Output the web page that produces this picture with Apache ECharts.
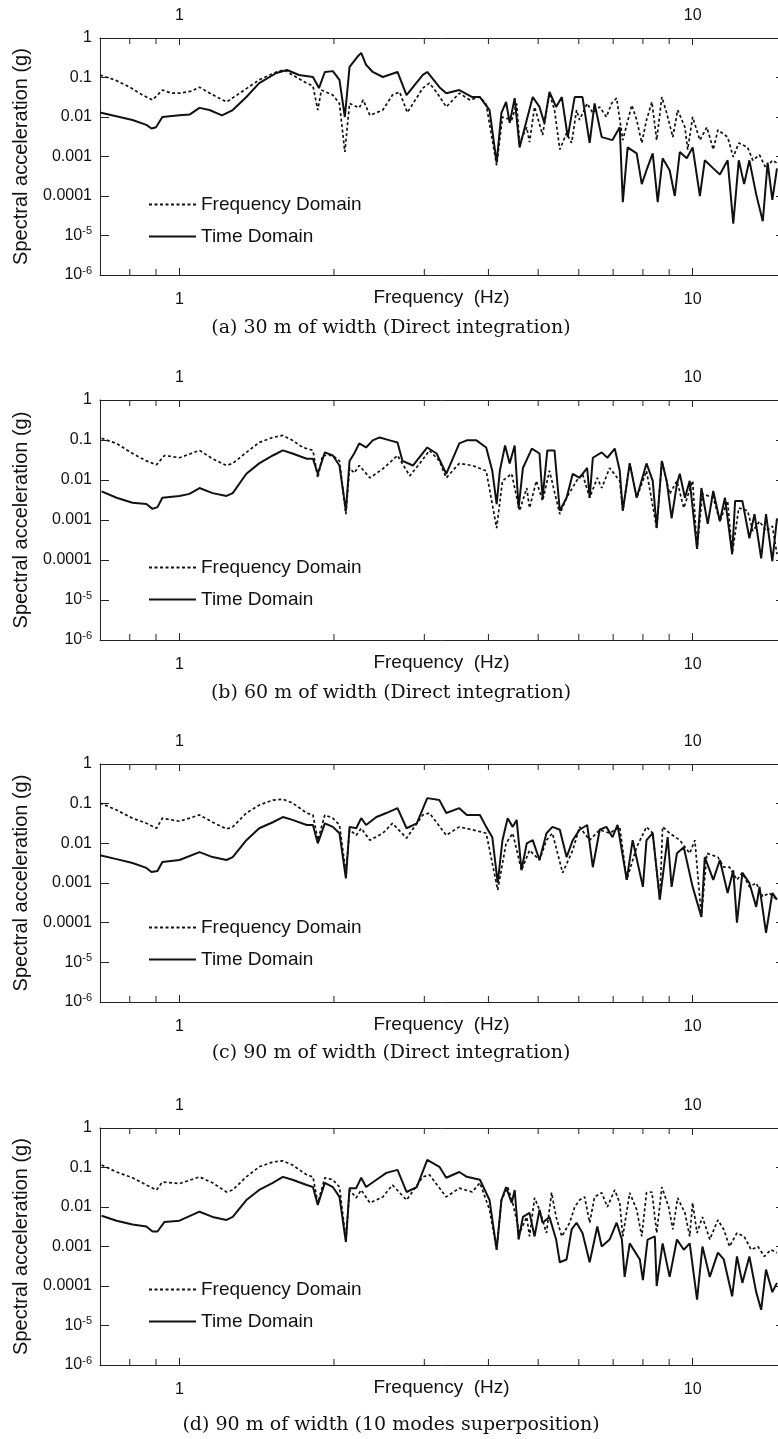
<!DOCTYPE html>
<html>
<head>
<meta charset="utf-8">
<script src="https://cdn.jsdelivr.net/npm/echarts@6/dist/echarts.min.js"></script>
<style>
html,body{margin:0;padding:0;background:#fff;overflow:hidden;width:778px;height:1439px;}
#chart{width:790px;height:1439px;}
</style>
</head>
<body>
<div id="chart"></div>
<script>
// ---------- Data (frequency in Hz, spectral acceleration in g) ----------
const seriesNames = ['Frequency Domain', 'Time Domain'];
const captions = [
  '(a) 30 m of width (Direct integration)',
  '(b) 60 m of width (Direct integration)',
  '(c) 90 m of width (Direct integration)',
  '(d) 90 m of width (10 modes superposition)'
];
const xTickLabelValues = [1, 10];
const xMinorTicks = [0.8, 0.9, 2, 3, 4, 5, 6, 7, 8, 9];
const yTickLabels = {'0': '1', '-1': '0.1', '-2': '0.01', '-3': '0.001', '-4': '0.0001', '-5': '10^-5', '-6': '10^-6'};

const aFreqDomain = [[0.70,0.115],[0.748,0.087],[0.80,0.057],[0.847,0.036],[0.886,0.027],[0.926,0.048],[0.965,0.040],[1.0,0.040],[1.055,0.045],[1.094,0.057],[1.154,0.038],[1.235,0.024],[1.31,0.040],[1.43,0.087],[1.545,0.138],[1.60,0.155],[1.66,0.116],[1.77,0.072],[1.82,0.061],[1.86,0.015],[1.89,0.048],[1.99,0.036],[2.05,0.022],[2.10,0.0013],[2.145,0.022],[2.24,0.017],[2.28,0.027],[2.35,0.011],[2.49,0.015],[2.60,0.036],[2.685,0.043],[2.78,0.013],[2.98,0.054],[3.07,0.072],[3.18,0.040],[3.31,0.018],[3.51,0.040],[3.68,0.027],[3.85,0.032],[3.96,0.021],[4.15,0.0006],[4.26,0.010],[4.44,0.0084],[4.54,0.022],[4.60,0.0022],[4.75,0.0055],[4.81,0.0023],[4.92,0.018],[5.10,0.0035],[5.26,0.040],[5.38,0.015],[5.51,0.0015],[5.68,0.0039],[5.81,0.0022],[5.94,0.015],[6.02,0.0084],[6.23,0.022],[6.39,0.0127],[6.59,0.018],[6.79,0.010],[6.95,0.022],[7.11,0.030],[7.31,0.0026],[7.61,0.020],[7.78,0.0084],[7.96,0.0022],[8.13,0.0084],[8.33,0.024],[8.51,0.0026],[8.71,0.032],[8.90,0.0127],[9.15,0.0031],[9.35,0.015],[9.66,0.0055],[9.78,0.0015],[10.0,0.010],[10.33,0.0026],[10.66,0.0055],[10.97,0.0015],[11.2,0.0047],[11.7,0.0031],[12.0,0.00097],[12.3,0.0022],[12.8,0.0017],[13.1,0.0008],[13.5,0.0011],[13.9,0.0005],[14.3,0.0008],[14.6,0.00068]];
const aTimeDomain = [[0.70,0.013],[0.753,0.0105],[0.81,0.0084],[0.862,0.0063],[0.882,0.0051],[0.90,0.0055],[0.926,0.010],[1.0,0.011],[1.046,0.0115],[1.094,0.017],[1.144,0.015],[1.21,0.011],[1.27,0.015],[1.35,0.032],[1.43,0.072],[1.545,0.13],[1.62,0.155],[1.71,0.116],[1.82,0.103],[1.87,0.054],[1.92,0.138],[1.99,0.145],[2.05,0.087],[2.10,0.010],[2.145,0.185],[2.22,0.33],[2.26,0.42],[2.31,0.21],[2.38,0.138],[2.49,0.103],[2.66,0.138],[2.77,0.036],[2.98,0.116],[3.04,0.138],[3.21,0.057],[3.31,0.040],[3.51,0.048],[3.72,0.032],[3.85,0.032],[4.02,0.015],[4.15,0.0007],[4.24,0.0127],[4.33,0.024],[4.40,0.0071],[4.50,0.030],[4.60,0.0017],[4.75,0.0084],[4.88,0.032],[5.03,0.018],[5.14,0.0071],[5.26,0.043],[5.42,0.018],[5.56,0.032],[5.71,0.0031],[5.89,0.032],[6.10,0.032],[6.30,0.0022],[6.44,0.022],[6.65,0.0031],[6.98,0.0026],[7.21,0.0055],[7.31,0.00007],[7.47,0.0017],[7.78,0.0012],[7.96,0.0002],[8.13,0.00045],[8.36,0.0012],[8.55,0.00007],[8.74,0.0009],[9.02,0.00045],[9.23,0.0001],[9.44,0.0013],[9.74,0.0009],[10.0,0.0017],[10.33,0.0001],[10.56,0.0008],[10.97,0.0005],[11.3,0.00035],[11.7,0.0008],[12.0,0.00002],[12.3,0.0008],[12.6,0.0002],[12.9,0.0008],[13.3,0.00011],[13.7,0.000023],[14.0,0.0007],[14.3,0.00008],[14.6,0.0005]];

const bFreqDomain = [[0.705,0.11],[0.754,0.082],[0.81,0.046],[0.862,0.030],[0.902,0.024],[0.935,0.041],[1.0,0.036],[1.094,0.055],[1.16,0.034],[1.235,0.023],[1.27,0.026],[1.35,0.049],[1.43,0.087],[1.52,0.116],[1.59,0.13],[1.66,0.098],[1.74,0.065],[1.82,0.055],[1.86,0.0113],[1.90,0.041],[1.99,0.041],[2.05,0.030],[2.11,0.0014],[2.145,0.020],[2.19,0.015],[2.24,0.023],[2.35,0.0113],[2.49,0.019],[2.66,0.041],[2.81,0.0127],[2.94,0.026],[3.07,0.055],[3.21,0.030],[3.31,0.0113],[3.51,0.026],[3.72,0.023],[3.96,0.017],[4.15,0.00063],[4.26,0.0095],[4.44,0.0143],[4.60,0.0017],[4.75,0.0063],[4.81,0.002],[4.96,0.0095],[5.10,0.003],[5.26,0.017],[5.51,0.0014],[5.68,0.0036],[5.94,0.0095],[6.10,0.0143],[6.30,0.0036],[6.52,0.0113],[6.65,0.0063],[6.89,0.020],[7.21,0.0095],[7.31,0.0017],[7.54,0.026],[7.78,0.0036],[8.13,0.017],[8.51,0.00063],[8.71,0.030],[9.02,0.0045],[9.32,0.0095],[9.61,0.002],[10.0,0.0095],[10.2,0.00019],[10.45,0.0045],[10.97,0.0036],[11.3,0.00093],[11.7,0.003],[11.94,0.00014],[12.3,0.002],[12.8,0.0017],[13.1,0.00053],[13.5,0.00093],[13.9,0.00053],[14.3,0.0007],[14.6,0.00014]];
const bTimeDomain = [[0.705,0.0052],[0.754,0.0036],[0.81,0.0027],[0.862,0.0025],[0.886,0.0019],[0.906,0.0021],[0.926,0.0036],[1.0,0.004],[1.046,0.0045],[1.094,0.0063],[1.16,0.0047],[1.235,0.004],[1.27,0.0047],[1.35,0.0143],[1.43,0.026],[1.52,0.041],[1.59,0.055],[1.66,0.046],[1.77,0.034],[1.82,0.034],[1.86,0.0143],[1.92,0.049],[1.99,0.041],[2.05,0.023],[2.11,0.0017],[2.145,0.030],[2.19,0.046],[2.24,0.082],[2.31,0.065],[2.38,0.098],[2.455,0.116],[2.57,0.098],[2.66,0.087],[2.72,0.030],[2.85,0.023],[3.04,0.065],[3.17,0.046],[3.31,0.0143],[3.51,0.082],[3.63,0.098],[3.79,0.098],[3.96,0.065],[4.07,0.017],[4.15,0.0025],[4.21,0.017],[4.31,0.073],[4.40,0.026],[4.50,0.073],[4.58,0.002],[4.67,0.020],[4.86,0.061],[5.03,0.046],[5.10,0.0036],[5.21,0.055],[5.38,0.055],[5.51,0.0017],[5.68,0.0036],[5.84,0.0143],[6.02,0.0113],[6.23,0.020],[6.30,0.0036],[6.39,0.036],[6.65,0.049],[6.82,0.036],[7.05,0.061],[7.21,0.017],[7.31,0.0017],[7.54,0.026],[7.78,0.0036],[8.13,0.026],[8.36,0.0095],[8.51,0.00063],[8.71,0.030],[8.90,0.0095],[9.10,0.0011],[9.32,0.008],[9.44,0.0143],[9.66,0.0036],[9.87,0.0095],[10.2,0.00019],[10.4,0.0063],[10.7,0.0008],[10.97,0.0053],[11.3,0.00093],[11.56,0.0036],[11.94,0.00014],[12.1,0.003],[12.5,0.003],[12.9,0.00035],[13.2,0.0014],[13.6,0.00011],[13.9,0.0014],[14.3,0.000093],[14.6,0.0011]];

const cFreqDomain = [[0.70,0.104],[0.754,0.069],[0.81,0.043],[0.862,0.032],[0.902,0.024],[0.926,0.043],[1.0,0.036],[1.094,0.052],[1.16,0.034],[1.235,0.023],[1.27,0.026],[1.35,0.058],[1.43,0.092],[1.52,0.123],[1.59,0.13],[1.66,0.104],[1.77,0.058],[1.82,0.052],[1.86,0.012],[1.92,0.052],[1.99,0.043],[2.05,0.029],[2.11,0.0018],[2.145,0.022],[2.21,0.016],[2.26,0.024],[2.35,0.012],[2.49,0.018],[2.60,0.032],[2.77,0.0135],[2.98,0.052],[3.07,0.058],[3.31,0.016],[3.51,0.026],[3.72,0.022],[3.96,0.018],[4.17,0.00067],[4.33,0.010],[4.46,0.018],[4.64,0.0021],[4.81,0.0067],[5.03,0.0038],[5.19,0.012],[5.33,0.018],[5.58,0.0018],[5.84,0.0067],[6.02,0.026],[6.30,0.012],[6.59,0.022],[6.89,0.018],[7.21,0.026],[7.44,0.0012],[7.78,0.008],[8.13,0.026],[8.36,0.018],[8.63,0.00038],[8.74,0.026],[9.02,0.018],[9.44,0.012],[9.87,0.0056],[10.1,0.012],[10.4,0.00014],[10.66,0.0056],[11.2,0.0045],[11.5,0.0025],[11.8,0.0025],[12.2,0.0012],[12.5,0.0018],[12.9,0.0008],[13.3,0.001],[13.7,0.00045],[14.1,0.00056],[14.6,0.00038]];
const cTimeDomain = [[0.70,0.005],[0.754,0.004],[0.81,0.0032],[0.862,0.0024],[0.882,0.0019],[0.906,0.002],[0.926,0.0034],[1.0,0.0038],[1.094,0.006],[1.16,0.0045],[1.235,0.0038],[1.27,0.0045],[1.35,0.012],[1.43,0.024],[1.52,0.034],[1.59,0.046],[1.66,0.039],[1.77,0.029],[1.82,0.029],[1.86,0.010],[1.92,0.032],[1.99,0.026],[2.05,0.018],[2.11,0.0013],[2.145,0.026],[2.21,0.024],[2.26,0.043],[2.31,0.029],[2.42,0.046],[2.53,0.058],[2.66,0.077],[2.77,0.024],[2.90,0.032],[3.04,0.138],[3.21,0.123],[3.31,0.058],[3.51,0.077],[3.63,0.052],[3.85,0.052],[3.96,0.026],[4.07,0.0143],[4.17,0.001],[4.26,0.012],[4.36,0.043],[4.46,0.026],[4.54,0.039],[4.64,0.0021],[4.75,0.010],[4.88,0.012],[5.03,0.0038],[5.19,0.018],[5.33,0.026],[5.51,0.022],[5.68,0.0045],[5.84,0.012],[6.02,0.022],[6.23,0.029],[6.39,0.0025],[6.59,0.022],[6.79,0.026],[6.98,0.0143],[7.14,0.029],[7.44,0.0012],[7.64,0.012],[8.0,0.0008],[8.13,0.012],[8.36,0.018],[8.63,0.00038],[8.94,0.0143],[9.10,0.0008],[9.32,0.0056],[9.61,0.008],[10.0,0.0008],[10.4,0.00014],[10.56,0.0045],[10.97,0.0012],[11.3,0.0038],[11.7,0.00056],[12.0,0.0021],[12.2,0.0001],[12.5,0.0018],[12.9,0.001],[13.3,0.00025],[13.5,0.0008],[13.9,0.000055],[14.3,0.00056],[14.6,0.00038]];

const dFreqDomain = [[0.705,0.116],[0.754,0.077],[0.81,0.055],[0.862,0.036],[0.902,0.027],[0.926,0.043],[1.0,0.039],[1.094,0.058],[1.16,0.041],[1.235,0.024],[1.27,0.027],[1.35,0.058],[1.43,0.104],[1.52,0.138],[1.59,0.147],[1.66,0.116],[1.77,0.065],[1.82,0.058],[1.86,0.0127],[1.92,0.055],[1.99,0.049],[2.05,0.032],[2.11,0.0015],[2.145,0.027],[2.21,0.017],[2.26,0.027],[2.35,0.0127],[2.49,0.018],[2.60,0.036],[2.77,0.015],[2.98,0.058],[3.07,0.065],[3.31,0.018],[3.51,0.030],[3.72,0.024],[3.85,0.041],[4.02,0.0085],[4.15,0.00083],[4.24,0.015],[4.36,0.032],[4.46,0.0127],[4.60,0.0022],[4.75,0.0056],[4.81,0.0018],[4.92,0.017],[5.03,0.0085],[5.19,0.0022],[5.31,0.023],[5.42,0.0056],[5.56,0.0018],[5.76,0.004],[5.89,0.010],[6.02,0.015],[6.16,0.018],[6.30,0.004],[6.44,0.018],[6.65,0.023],[6.82,0.010],[7.05,0.027],[7.21,0.0127],[7.31,0.0018],[7.54,0.023],[7.78,0.0085],[7.96,0.0018],[8.13,0.023],[8.33,0.024],[8.51,0.0022],[8.71,0.032],[8.98,0.010],[9.15,0.0027],[9.35,0.017],[9.66,0.0071],[9.87,0.0018],[10.0,0.0127],[10.2,0.0022],[10.45,0.0056],[10.8,0.0015],[11.2,0.0047],[11.5,0.0027],[11.8,0.001],[12.2,0.0022],[12.6,0.0018],[13.0,0.00083],[13.4,0.001],[13.8,0.00056],[14.2,0.00083],[14.6,0.0007]];
const dTimeDomain = [[0.705,0.006],[0.754,0.0045],[0.81,0.0036],[0.862,0.0032],[0.886,0.0024],[0.906,0.0024],[0.935,0.0042],[1.0,0.0045],[1.094,0.0076],[1.16,0.0056],[1.235,0.0047],[1.27,0.0056],[1.35,0.015],[1.43,0.027],[1.52,0.041],[1.59,0.058],[1.66,0.049],[1.77,0.036],[1.82,0.032],[1.86,0.0113],[1.92,0.041],[1.99,0.032],[2.05,0.018],[2.11,0.0013],[2.145,0.030],[2.21,0.030],[2.26,0.055],[2.31,0.032],[2.42,0.049],[2.53,0.073],[2.66,0.087],[2.77,0.024],[2.90,0.032],[3.04,0.155],[3.21,0.104],[3.31,0.055],[3.51,0.077],[3.63,0.058],[3.85,0.049],[4.02,0.015],[4.15,0.00083],[4.24,0.015],[4.33,0.032],[4.44,0.0127],[4.50,0.027],[4.58,0.0015],[4.67,0.0056],[4.81,0.0071],[4.92,0.0018],[5.03,0.0085],[5.10,0.004],[5.26,0.0056],[5.42,0.0015],[5.51,0.0004],[5.68,0.00047],[5.81,0.0027],[5.94,0.004],[6.10,0.0022],[6.30,0.0004],[6.52,0.0032],[6.65,0.001],[6.89,0.0015],[7.11,0.004],[7.28,0.0015],[7.37,0.00017],[7.54,0.0012],[7.89,0.00047],[8.0,0.00014],[8.17,0.0015],[8.44,0.0018],[8.51,0.0001],[8.74,0.0012],[9.02,0.00017],[9.32,0.0015],[9.61,0.00083],[9.87,0.0012],[10.2,0.000045],[10.45,0.001],[10.8,0.00017],[11.2,0.0007],[11.5,0.00047],[11.94,0.000055],[12.2,0.00056],[12.5,0.00012],[12.9,0.00056],[13.3,0.00007],[13.6,0.000025],[13.9,0.00026],[14.3,0.00007],[14.6,0.00012]];

const panelData = [
  [aFreqDomain, aTimeDomain],
  [bFreqDomain, bTimeDomain],
  [cFreqDomain, cTimeDomain],
  [dFreqDomain, dTimeDomain]
];

// ---------- Layout ----------
const X_MIN = 0.7, X_MAX = 15, Y_MIN = 1e-6, Y_MAX = 1;
const gridTops = [38, 400, 764, 1128];
const gridHeights = [237, 240, 238, 237];
const captionY = [328, 693, 1053, 1425];
const legendTops = [195, 558, 918, 1280];
const SANS = '"Liberation Sans", Arial, Helvetica, sans-serif';
const ink = '#111';

const grids = [], xAxes = [], yAxes = [], series = [], legends = [], graphics = [];

function yLabel(v) {
  const e = Math.round(Math.log10(v));
  const t = yTickLabels[String(e)];
  if (t && t.indexOf('^') > 0) {
    const p = t.split('^');
    return '{b|' + p[0] + '}{s|' + p[1] + '}';
  }
  return '{b|' + t + '}';
}
function xLabel(v) {
  return xTickLabelValues.some(t => Math.abs(t - v) < 1e-6) ? String(Math.round(v)) : '';
}

gridTops.forEach((top, i) => {
  grids.push({left: 100, right: 7, top: top, height: gridHeights[i], containLabel: false});
  const tickCommon = {show: true, inside: true, length: 7, lineStyle: {color: '#222', width: 1}};
  const axisLineCommon = {show: true, lineStyle: {color: '#222', width: 1}};
  xAxes.push({
    type: 'log', logBase: 10, gridIndex: i, position: 'bottom', min: X_MIN, max: X_MAX,
    axisLine: axisLineCommon, axisTick: tickCommon, splitLine: {show: false}, minorTick: {show: false},
    axisLabel: {show: true, margin: 17, color: ink, fontFamily: SANS, fontSize: 16, showMinLabel: false, showMaxLabel: false, formatter: xLabel},
    name: 'Frequency  (Hz)', nameLocation: 'middle', nameGap: 13, nameMoveOverlap: false,
    nameTextStyle: {color: ink, fontFamily: SANS, fontSize: 19}
  });
  xAxes.push({
    type: 'log', logBase: 10, gridIndex: i, position: 'top', min: X_MIN, max: X_MAX,
    axisLine: axisLineCommon, axisTick: tickCommon, splitLine: {show: false},
    axisLabel: {show: true, margin: 14, color: ink, fontFamily: SANS, fontSize: 16, showMinLabel: false, showMaxLabel: false, formatter: xLabel}
  });
  yAxes.push({
    type: 'log', logBase: 10, gridIndex: i, position: 'left', min: Y_MIN, max: Y_MAX,
    axisLine: axisLineCommon, axisTick: {show: true, inside: true, length: 9, lineStyle: {color: '#222', width: 1}},
    splitLine: {show: false},
    axisLabel: {show: true, margin: 8, color: ink, fontFamily: SANS, fontSize: 16, formatter: yLabel,
      rich: {b: {fontFamily: SANS, fontSize: 16, color: ink}, s: {fontFamily: SANS, fontSize: 11, color: ink, padding: [0, 0, 9, 0]}}},
    name: 'Spectral acceleration (g)', nameLocation: 'middle', nameGap: 69, nameRotate: 90, nameMoveOverlap: false,
    nameTextStyle: {color: ink, fontFamily: SANS, fontSize: 20}
  });
  yAxes.push({
    type: 'log', logBase: 10, gridIndex: i, position: 'right', min: Y_MIN, max: Y_MAX,
    axisLine: axisLineCommon, axisTick: tickCommon, splitLine: {show: false}, axisLabel: {show: false}
  });

  const [fd, td] = panelData[i];
  series.push({
    name: seriesNames[0], type: 'line', xAxisIndex: 2 * i, yAxisIndex: 2 * i, data: fd,
    symbol: 'none', showSymbol: false, smooth: false, z: 3,
    lineStyle: {color: '#111', width: 1.7, type: [3, 2.5]}, itemStyle: {color: '#111'}
  });
  series.push({
    name: seriesNames[1], type: 'line', xAxisIndex: 2 * i, yAxisIndex: 2 * i, data: td,
    symbol: 'none', showSymbol: false, smooth: false, z: 2,
    lineStyle: {color: '#111', width: 2, type: 'solid'}, itemStyle: {color: '#111'}
  });
  series.push({
    type: 'custom', xAxisIndex: 2 * i, yAxisIndex: 2 * i, silent: true, clip: false, z: 5,
    data: xMinorTicks.map(f => [f, Y_MIN]),
    renderItem: (params, api) => {
      const pb = api.coord([api.value(0), Y_MIN]);
      const pt = api.coord([api.value(0), Y_MAX]);
      return {type: 'group', children: [
        {type: 'line', shape: {x1: pb[0], y1: pb[1], x2: pb[0], y2: pb[1] - 6}, style: {stroke: '#222', lineWidth: 1}},
        {type: 'line', shape: {x1: pt[0], y1: pt[1], x2: pt[0], y2: pt[1] + 6}, style: {stroke: '#222', lineWidth: 1}}
      ]};
    }
  });
  legends.push({
    show: true, orient: 'vertical', left: 148, top: legendTops[i], padding: 0, itemWidth: 47, itemHeight: 12, itemGap: 13,
    data: seriesNames, selectedMode: false,
    itemStyle: {opacity: 0, borderWidth: 0},
    textStyle: {color: ink, fontFamily: SANS, fontSize: 19}
  });
  graphics.push({
    type: 'text', x: 391, y: captionY[i],
    style: {text: captions[i], fill: ink, font: '19px "DejaVu Serif", "Liberation Serif", serif', textAlign: 'center', textVerticalAlign: 'middle'}
  });
});

const chart = echarts.init(document.getElementById('chart'), null, {renderer: 'canvas'});
chart.setOption({
  backgroundColor: '#fff',
  animation: false,
  grid: grids,
  xAxis: xAxes,
  yAxis: yAxes,
  legend: legends,
  series: series,
  graphic: graphics
});
</script>
</body>
</html>
